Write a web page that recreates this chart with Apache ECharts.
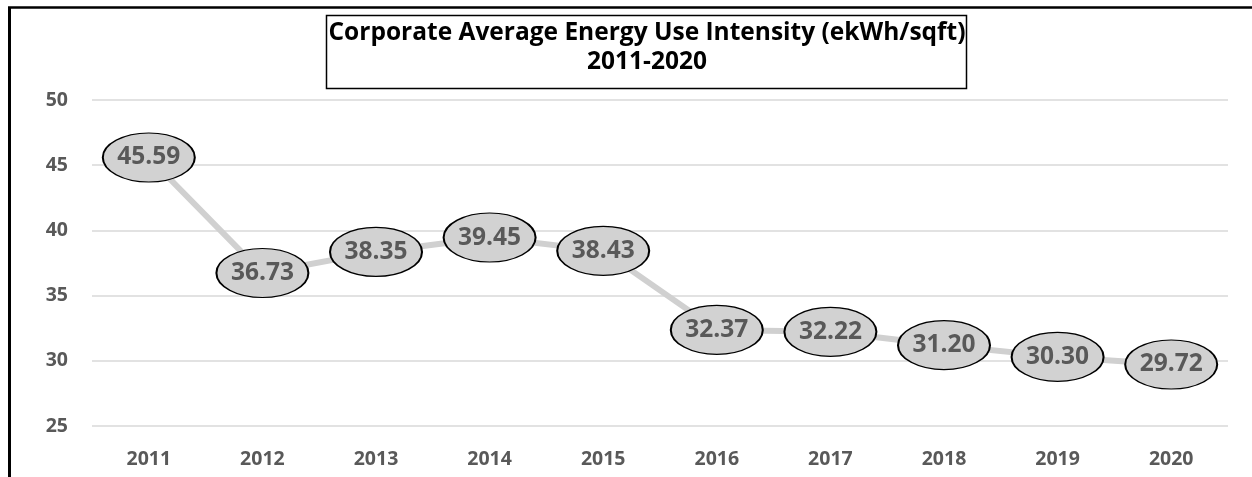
<!DOCTYPE html>
<html lang="en">
<head>
    <meta charset="UTF-8"/>
    <title>Corporate Average EUI</title>
    <style>
        * { padding: 0; margin: 0; }
        body { background-color: #fff; width: 1252px; height: 477px; }
        #chart { width: 1252px; height: 477px; }
    </style>
    <script src="https://cdn.jsdelivr.net/npm/echarts@6/dist/echarts.min.js"></script>
</head>
<body>
<div id="chart"></div>
<script>
    const years = ['2011', '2012', '2013', '2014', '2015', '2016', '2017', '2018', '2019', '2020']
    const eui = [45.59, 36.73, 38.35, 39.45, 38.43, 32.37, 32.22, 31.20, 30.30, 29.72]
    const titleLines = ['Corporate Average Energy Use Intensity (ekWh/sqft)', '2011-2020']

    const font = '"Open Sans", "Noto Sans", sans-serif'
    const ellipse = 'path://M0,1A1,1 0 1,1 2,1A1,1 0 1,1 0,1Z'

    const chart = echarts.init(document.getElementById('chart'))

    chart.setOption({
        animation: false,
        backgroundColor: '#fff',
        title: {
            text: titleLines.join('\n'),
            left: 647,
            top: 19,
            textAlign: 'center',
            padding: 0,
            textStyle: {
                fontFamily: font,
                fontWeight: 'bold',
                fontSize: 24.5,
                lineHeight: 29,
                color: '#000'
            }
        },
        graphic: [
            // outer frame, only left and top show in the crop
            { type: 'line', shape: { x1: 9.5, y1: 7, x2: 9.5, y2: 477 }, style: { stroke: '#000', lineWidth: 3 } },
            { type: 'line', shape: { x1: 8, y1: 7.5, x2: 1252, y2: 7.5 }, style: { stroke: '#000', lineWidth: 2.5 } },
            // title box
            { type: 'rect', shape: { x: 326.5, y: 15.5, width: 640, height: 73 }, style: { fill: 'none', stroke: '#000', lineWidth: 1.5 }, z: -1 }
        ],
        grid: { left: 92, right: 24, top: 100, bottom: 51 },
        xAxis: {
            type: 'category',
            data: years,
            boundaryGap: true,
            axisLine: { show: false },
            axisTick: { show: false },
            axisLabel: {
                margin: 23,
                fontFamily: font,
                fontWeight: 'bold',
                fontSize: 19.5,
                color: '#595959'
            }
        },
        yAxis: {
            type: 'value',
            min: 25,
            max: 50,
            interval: 5,
            axisLine: { show: false },
            axisTick: { show: false },
            splitLine: { lineStyle: { color: '#d9d9d9', width: 1.5 } },
            axisLabel: {
                margin: 24,
                fontFamily: font,
                fontWeight: 'bold',
                fontSize: 19.5,
                color: '#595959'
            }
        },
        series: [
            {
                type: 'line',
                data: eui,
                lineStyle: { color: '#d0d0d0', width: 6 },
                symbol: ellipse,
                symbolSize: [92, 49],
                itemStyle: { color: '#d2d2d2', borderColor: '#000', borderWidth: 1.5 },
                label: {
                    show: true,
                    position: 'inside',
                    formatter: p => p.value.toFixed(2),
                    fontFamily: font,
                    fontWeight: 'bold',
                    fontSize: 24.5,
                    color: '#595959'
                },
                z: 3
            }
        ]
    })
</script>
</body>
</html>
